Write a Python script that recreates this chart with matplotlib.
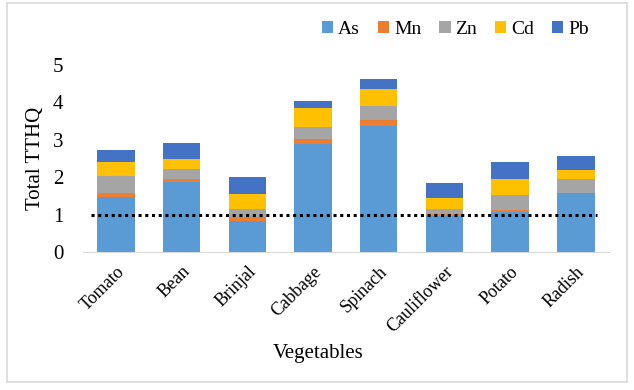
import numpy as np
import matplotlib.pyplot as plt
from matplotlib.patches import Rectangle

plt.rcParams['font.family'] = ['Liberation Serif', 'DejaVu Serif']

vegetables = ['Tomato', 'Bean', 'Brinjal', 'Cabbage', 'Spinach',
              'Cauliflower', 'Potato', 'Radish']
metals = ['As', 'Mn', 'Zn', 'Cd', 'Pb']

As = [1.48, 1.87, 0.84, 2.88, 3.38, 0.96, 1.07, 1.57]
Mn = [0.09, 0.08, 0.10, 0.13, 0.14, 0.06, 0.06, 0.01]
Zn = [0.47, 0.26, 0.22, 0.34, 0.38, 0.14, 0.39, 0.36]
Cd = [0.37, 0.28, 0.40, 0.49, 0.46, 0.28, 0.44, 0.24]
Pb = [0.32, 0.42, 0.44, 0.21, 0.27, 0.40, 0.46, 0.39]

colors = ['#5B9BD5', '#ED7D31', '#A5A5A5', '#FFC000', '#4472C4']

fig = plt.figure(figsize=(6.34, 3.9), dpi=100)
ax = fig.add_axes([0.131, 0.354, 0.829, 0.479])

x = np.arange(len(vegetables))
bottom = np.zeros(len(vegetables))
for name, vals, c in zip(metals, [As, Mn, Zn, Cd, Pb], colors):
    ax.bar(x, vals, width=0.57, bottom=bottom, color=c, label=name, zorder=2)
    bottom += np.array(vals)

# threshold line at TTHQ = 1
ax.plot([-0.38, 7.33], [1, 1], color='black', linestyle=(0, (1, 1.2)),
        linewidth=2.2, zorder=3)

ax.set_xlim(-0.5, 7.5)
ax.set_ylim(0, 5)
ax.set_yticks([0, 1, 2, 3, 4, 5])
ax.set_xticks(x)
ax.set_xticklabels(vegetables, rotation=45, ha='right', rotation_mode='anchor')
ax.tick_params(axis='x', length=0, labelsize=13, pad=8)
ax.tick_params(axis='y', length=0, labelsize=15, pad=14)

for s in ['top', 'right', 'left']:
    ax.spines[s].set_visible(False)
ax.spines['bottom'].set_color('#D9D9D9')

ax.set_ylabel('Total TTHQ', fontsize=15, labelpad=6)
ax.set_xlabel('Vegetables', fontsize=15, labelpad=6, x=0.447)

ax.legend(loc='center', bbox_to_anchor=(0.708, 1.19), ncol=5,
          frameon=False, fontsize=14, handlelength=0.6, handleheight=0.6,
          handletextpad=0.25, columnspacing=0.9)

fig.patches.append(Rectangle((0.011, 0.02), 0.978, 0.972, transform=fig.transFigure,
                             fill=False, edgecolor='#D9D9D9', linewidth=1.2))

fig.savefig('out.png', dpi=100)
